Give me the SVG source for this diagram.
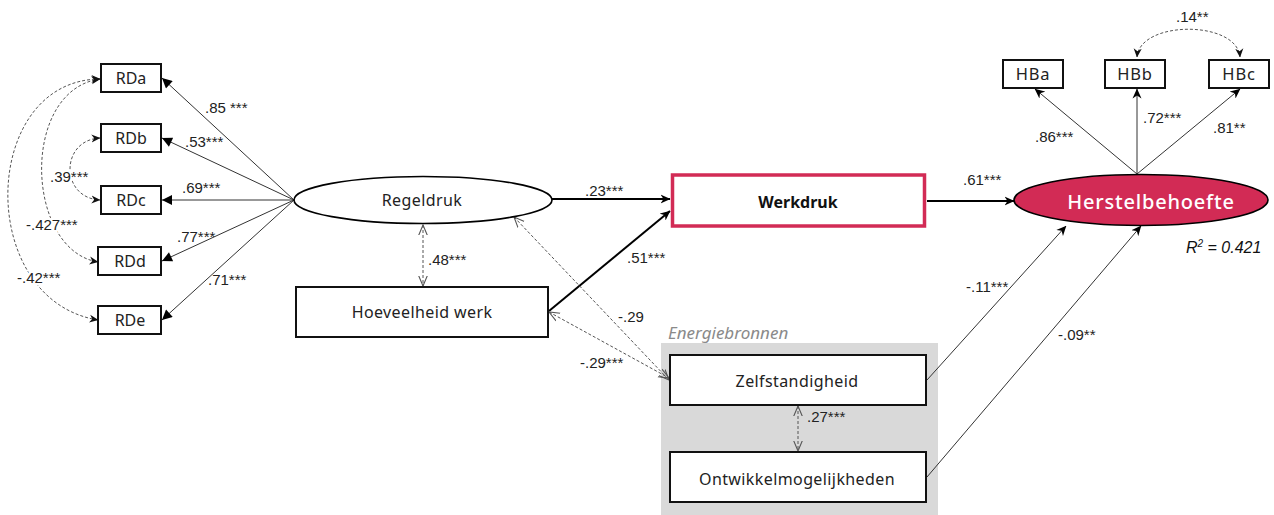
<svg xmlns="http://www.w3.org/2000/svg" width="1274" height="515" viewBox="0 0 1274 515">
  <defs>
    <style>
      .box { fill: #fff; stroke: #111; stroke-width: 2; }
      .lbl { font-family: "Noto Sans", "Open Sans", sans-serif; font-size: 16px; fill: #222; text-anchor: middle; letter-spacing: 0.4px; }
      .rd { font-family: "Noto Sans", "Open Sans", sans-serif; font-size: 16px; fill: #222; text-anchor: middle; }
      .hb { font-family: "Noto Sans", "Open Sans", sans-serif; font-size: 16.5px; fill: #222; text-anchor: middle; letter-spacing: 0.8px; }
      .num { font-family: "Liberation Sans", Arial, sans-serif; font-size: 15px; fill: #222; }
      .halo { paint-order: stroke; stroke: #fff; stroke-width: 5px; stroke-linejoin: round; }
      .ln { fill: none; stroke: #333; stroke-width: 1; }
      .bold { fill: none; stroke: #000; stroke-width: 2; }
      .dash { fill: none; stroke: #555; stroke-width: 1; stroke-dasharray: 3 2; }
    </style>
    <marker id="tri" viewBox="0 0 10 10" refX="10" refY="5" markerWidth="11" markerHeight="10" markerUnits="userSpaceOnUse" orient="auto">
      <path d="M0,0 L10,5 L0,10 z" fill="#000"/>
    </marker>
    <marker id="barb" viewBox="0 0 10 10" refX="9.5" refY="5" markerWidth="10" markerHeight="10" markerUnits="userSpaceOnUse" orient="auto-start-reverse">
      <path d="M0,0.5 L10,5 L0,9.5 L3,5 z" fill="#000"/>
    </marker>
    <marker id="barbS" viewBox="0 0 10 10" refX="9.5" refY="5" markerWidth="9" markerHeight="9" markerUnits="userSpaceOnUse" orient="auto-start-reverse">
      <path d="M0,0.5 L10,5 L0,9.5 L3,5 z" fill="#111"/>
    </marker>
    <marker id="vee" viewBox="0 0 10 10" refX="9.5" refY="5" markerWidth="11" markerHeight="11" markerUnits="userSpaceOnUse" orient="auto-start-reverse">
      <path d="M0,1 L9.5,5 L0,9" fill="none" stroke="#555" stroke-width="1"/>
    </marker>
  </defs>

  <rect width="1274" height="515" fill="#fff"/>

  <!-- Energiebronnen panel -->
  <g id="energiebronnen">
    <rect x="661" y="343" width="277" height="172" fill="#d9d9d9"/>
    <text x="668" y="339" font-family="'Noto Sans', 'Open Sans', sans-serif" font-size="17" font-style="italic" fill="#8a8a8a">Energiebronnen</text>
  </g>

  <!-- connectors -->
  <g id="connectors">
    <!-- Regeldruk loadings -->
    <line class="ln" x1="294" y1="200" x2="162" y2="78" marker-end="url(#tri)"/>
    <line class="ln" x1="294" y1="200" x2="162" y2="138" marker-end="url(#tri)"/>
    <line class="ln" x1="294" y1="200" x2="162" y2="200" marker-end="url(#tri)"/>
    <line class="ln" x1="294" y1="200" x2="162" y2="261" marker-end="url(#tri)"/>
    <line class="ln" x1="294" y1="200" x2="162" y2="320" marker-end="url(#tri)"/>

    <!-- residual correlations among indicators -->
    <path class="dash" d="M100,138 C60,140 60,198 100,200" marker-start="url(#barbS)" marker-end="url(#barbS)"/>
    <path class="dash" d="M100,79 C20,90 25,250 98,262" marker-start="url(#barbS)" marker-end="url(#barbS)"/>
    <path class="dash" d="M100,79 C-20,80 -25,300 98,320" marker-start="url(#barbS)" marker-end="url(#barbS)"/>

    <!-- structural paths -->
    <line class="bold" x1="552" y1="199" x2="670" y2="199" marker-end="url(#barb)"/>
    <line class="bold" x1="549" y1="311" x2="670" y2="211" marker-end="url(#barb)"/>
    <line class="bold" x1="927" y1="201" x2="1014" y2="201" stroke-width="1.6" marker-end="url(#barb)"/>
    <line class="ln" x1="927" y1="380" x2="1066" y2="226" marker-end="url(#barb)"/>
    <line class="ln" x1="927" y1="477" x2="1141" y2="226" marker-end="url(#barb)"/>

    <!-- Herstelbehoefte loadings -->
    <line class="ln" x1="1137" y1="174" x2="1035" y2="89" marker-end="url(#barb)"/>
    <line class="ln" x1="1137" y1="174" x2="1137" y2="89" marker-end="url(#barb)"/>
    <line class="ln" x1="1137" y1="174" x2="1240" y2="89" marker-end="url(#barb)"/>
    <path class="dash" d="M1137,57 C1140,20 1237,20 1240,57" marker-start="url(#barbS)" marker-end="url(#barbS)"/>

    <!-- covariances -->
    <line class="dash" x1="423" y1="225" x2="423" y2="286" marker-start="url(#vee)" marker-end="url(#vee)"/>
    <line class="dash" x1="514" y1="217" x2="669" y2="380" marker-start="url(#vee)" marker-end="url(#vee)"/>
    <line class="dash" x1="549" y1="312" x2="669" y2="378" marker-start="url(#vee)" marker-end="url(#vee)"/>
    <line class="dash" x1="798" y1="406" x2="798" y2="451" marker-start="url(#vee)" marker-end="url(#vee)"/>

    <!-- coefficients -->
    <text class="num" x="205" y="113">.85 ***</text>
    <text class="num" x="185" y="147">.53***</text>
    <text class="num" x="182" y="193">.69***</text>
    <text class="num" x="177" y="242">.77***</text>
    <text class="num" x="208" y="285">.71***</text>
    <text class="num halo" x="50" y="182">.39***</text>
    <text class="num halo" x="26" y="230">-.427***</text>
    <text class="num halo" x="17" y="283">-.42***</text>
    <text class="num" x="585" y="196">.23***</text>
    <text class="num" x="428" y="265">.48***</text>
    <text class="num" x="627" y="263">.51***</text>
    <text class="num" x="618" y="322">-.29</text>
    <text class="num" x="580" y="368">-.29***</text>
    <text class="num" x="807" y="422">.27***</text>
    <text class="num" x="963" y="185">.61***</text>
    <text class="num" x="1035" y="142">.86***</text>
    <text class="num" x="1143" y="123">.72***</text>
    <text class="num" x="1213" y="133">.81**</text>
    <text class="num" x="1176" y="22">.14**</text>
    <text class="num" x="966" y="292">-.11***</text>
    <text class="num" x="1058" y="340">-.09**</text>
  </g>

  <!-- indicators of Regeldruk -->
  <g id="rda"><rect class="box" x="101" y="64" width="60" height="28"/><text class="rd" x="131" y="84">RDa</text></g>
  <g id="rdb"><rect class="box" x="101" y="124" width="60" height="28"/><text class="rd" x="131" y="144">RDb</text></g>
  <g id="rdc"><rect class="box" x="101" y="186" width="60" height="28"/><text class="rd" x="131" y="206">RDc</text></g>
  <g id="rdd"><rect class="box" x="98" y="247" width="63" height="28"/><text class="rd" x="130" y="267">RDd</text></g>
  <g id="rde"><rect class="box" x="98" y="306" width="63" height="28"/><text class="rd" x="130" y="326">RDe</text></g>

  <!-- latent and observed predictors -->
  <g id="regeldruk">
    <ellipse cx="423" cy="200" rx="129" ry="23.5" fill="#fff" stroke="#000" stroke-width="1.6"/>
    <text class="lbl" x="422" y="206">Regeldruk</text>
  </g>
  <g id="hoeveelheid-werk">
    <rect class="box" x="296" y="287" width="252" height="50"/>
    <text class="lbl" x="422" y="318">Hoeveelheid werk</text>
  </g>
  <g id="werkdruk">
    <rect x="672.5" y="175" width="252" height="51" fill="#fff" stroke="#d22b55" stroke-width="3.5"/>
    <text x="798" y="208" font-family="'Noto Sans', 'Open Sans', sans-serif" font-size="16" font-weight="bold" fill="#111" text-anchor="middle">Werkdruk</text>
  </g>
  <g id="zelfstandigheid">
    <rect class="box" x="670" y="355" width="256" height="50"/>
    <text class="lbl" x="797" y="387">Zelfstandigheid</text>
  </g>
  <g id="ontwikkelmogelijkheden">
    <rect class="box" x="670" y="452" width="256" height="50"/>
    <text class="lbl" x="797" y="485">Ontwikkelmogelijkheden</text>
  </g>

  <!-- outcome -->
  <g id="herstelbehoefte">
    <ellipse cx="1141" cy="200" rx="127" ry="25.5" fill="#d22b55" stroke="#000" stroke-width="1.6"/>
    <text x="1151" y="209" font-family="'Noto Sans', 'Open Sans', sans-serif" font-size="20" font-weight="500" fill="#fff" text-anchor="middle" letter-spacing="0.8">Herstelbehoefte</text>
    <text x="1186" y="253" font-family="'Liberation Sans', Arial, sans-serif" font-size="16" font-style="italic" fill="#111">R<tspan font-size="10" dy="-6">2</tspan><tspan dy="6"> = 0.421</tspan></text>
  </g>
  <g id="hba"><rect class="box" x="1003" y="60" width="60" height="28"/><text class="hb" x="1033" y="80">HBa</text></g>
  <g id="hbb"><rect class="box" x="1105" y="60" width="60" height="28"/><text class="hb" x="1135" y="80">HBb</text></g>
  <g id="hbc"><rect class="box" x="1209" y="60" width="60" height="28"/><text class="hb" x="1239" y="80">HBc</text></g>
</svg>
